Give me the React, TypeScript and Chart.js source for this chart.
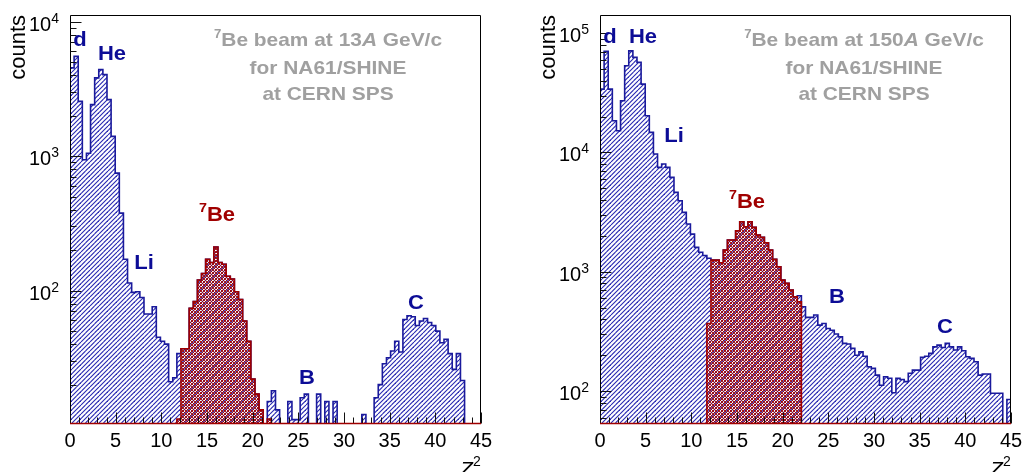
import React, { useEffect, useRef } from "react";
import { Chart, registerables } from "chart.js";

Chart.register(...registerables);

// Histogram binning in Z²: 100 bins of 0.45 over 0–45
const BIN_WIDTH = 0.45;
const Z2_MIN = 0;
const Z2_MAX = 45;
const Z2_TICK_LABELS = ["0", "5", "10", "15", "20", "25", "30", "35", "40", "45"];

// 7Be beam at 13A GeV/c: all fragments (blue) and the selected 7Be peak (red)
const counts13All = [
  4530, 5520, 2555, 940, 1050, 2415, 3815, 4400, 4035, 2630,
  1402, 748, 377, 171, 114, 97, 98, 89, 67, 67,
  76, 45, 42, 40, 21, 22.5, 34, 37, 37, 74,
  83, 120, 134, 171, 162, 211, 162, 157, 128, 122,
  98, 86, 59.5, 42, 22, 17, 13, 0, 15, 18,
  13, 0, 0, 15, 11, 11, 16, 17, 0, 0,
  17, 0, 15, 0, 15, 0, 0, 0, 0, 0,
  0, 12, 0, 0, 16, 20, 28.6, 31.7, 35.6, 42,
  35, 61, 65, 64, 55, 59.5, 62, 58, 55, 50,
  41, 43.5, 34, 26, 34, 21.5, 0, 0, 0, 0,
];
const counts13Be = [
  0, 0, 0, 0, 0, 0, 0, 0, 0, 0,
  0, 0, 0, 0, 0, 0, 0, 0, 0, 0,
  0, 0, 0, 0, 0, 0, 11.1, 37, 37, 74,
  83, 120, 134, 171, 162, 211, 162, 157, 128, 122,
  98, 86, 59.5, 42, 22, 17, 13, 0, 11.1, 0,
  0, 0, 0, 0, 0, 0, 0, 0, 0, 0,
  0, 0, 0, 0, 0, 0, 0, 0, 0, 0,
  0, 0, 0, 0, 0, 0, 0, 0, 0, 0,
  0, 0, 0, 0, 0, 0, 0, 0, 0, 0,
  0, 0, 0, 0, 0, 0, 0, 0, 0, 0,
];

// 7Be beam at 150A GeV/c
const counts150All = [
  33980, 70350, 33980, 18450, 15210, 27110, 53330, 71120, 62660, 56900,
  37440, 20320, 14730, 9700, 7500, 8000, 7500, 6180, 4630, 3940,
  3150, 2513, 2070, 1602, 1460, 1370, 1300, 1253, 1253, 1189,
  1520, 1845, 1845, 2206, 2626, 2384, 2626, 2356, 2030, 1942,
  1750, 1520, 1270, 1102, 851, 800, 703, 618, 630, 509,
  415, 415, 434, 357, 369, 335, 324, 301, 285, 251,
  248, 228, 200, 213, 196, 160, 155, 136, 112, 132,
  128, 97, 128, 125, 120, 141, 150, 150, 192, 196,
  207, 235, 243, 232, 251, 235, 221, 235, 218, 194,
  188, 176, 136, 139, 139, 96, 96, 96, 0, 85,
];
const counts150Be = [
  0, 0, 0, 0, 0, 0, 0, 0, 0, 0,
  0, 0, 0, 0, 0, 0, 0, 0, 0, 0,
  0, 0, 0, 0, 0, 0, 369, 1253, 1253, 1189,
  1520, 1845, 1845, 2206, 2626, 2384, 2626, 2356, 2030, 1942,
  1750, 1520, 1270, 1102, 851, 800, 703, 618, 561, 0,
  0, 0, 0, 0, 0, 0, 0, 0, 0, 0,
  0, 0, 0, 0, 0, 0, 0, 0, 0, 0,
  0, 0, 0, 0, 0, 0, 0, 0, 0, 0,
  0, 0, 0, 0, 0, 0, 0, 0, 0, 0,
  0, 0, 0, 0, 0, 0, 0, 0, 0, 0,
];

const momentum13 = "13";
const momentum150 = "150";

const FONT = "'Liberation Sans', Arial, Helvetica, sans-serif";
const BLUE_LINE = "#1a1a9c";
const BLUE_HATCH = "#2626b0";
const BLUE_TEXT = "#0c0c96";
const RED = "#a00000";
const GREY = "#a0a0a0";
// stand-in for empty bins on a log axis (well below the visible range)
const FLOOR = 1e-3;

type Part = { text: string; size: number; italic?: boolean; dy?: number };

type Note = { parts: Part[]; x: number; y: number; color: string; sx: number };

type PanelConfig = {
  offset: number;
  padLeft: number;
  padRight: number;
  yMin: number;
  yMax: number;
  all: number[];
  be: number[];
  notes: Note[];
};

function stepPoints(values: number[]) {
  let first = values.findIndex((v) => v > 0);
  let last = values.length - 1;
  while (last >= 0 && !(values[last] > 0)) last--;
  const pts: { x: number; y: number }[] = [{ x: first * BIN_WIDTH, y: FLOOR }];
  for (let i = first; i <= last; i++) {
    pts.push({ x: i * BIN_WIDTH, y: values[i] > 0 ? values[i] : FLOOR });
  }
  pts.push({ x: (last + 1) * BIN_WIDTH, y: values[last] });
  pts.push({ x: (last + 1) * BIN_WIDTH, y: FLOOR });
  return pts;
}

function hatchPattern(ctx: CanvasRenderingContext2D) {
  const c = document.createElement("canvas");
  c.width = 9;
  c.height = 9;
  const g = c.getContext("2d")!;
  g.strokeStyle = BLUE_HATCH;
  g.lineWidth = 1.1;
  for (let k = -2; k <= 2; k++) {
    const x0 = k * 4.5;
    g.beginPath();
    g.moveTo(x0, 9);
    g.lineTo(x0 + 9, 0);
    g.stroke();
  }
  return ctx.createPattern(c, "repeat")!;
}

function crossPattern(ctx: CanvasRenderingContext2D) {
  const c = document.createElement("canvas");
  c.width = 6;
  c.height = 6;
  const g = c.getContext("2d")!;
  g.strokeStyle = RED;
  g.lineWidth = 0.9;
  for (let k = -2; k <= 2; k++) {
    const x0 = k * 3;
    g.beginPath();
    g.moveTo(x0, 6);
    g.lineTo(x0 + 6, 0);
    g.moveTo(x0, 0);
    g.lineTo(x0 + 6, 6);
    g.stroke();
  }
  return ctx.createPattern(c, "repeat")!;
}

function fontOf(p: Part) {
  return `${p.italic ? "italic " : ""}bold ${p.size}px ${FONT}`;
}

// bold text run made of several styled parts, centred on cx, slightly widened by sx
function drawRich(ctx: CanvasRenderingContext2D, n: Note) {
  let total = 0;
  const widths = n.parts.map((p) => {
    ctx.font = fontOf(p);
    const w = ctx.measureText(p.text).width;
    total += w;
    return w;
  });
  ctx.save();
  ctx.translate(n.x - (total * n.sx) / 2, n.y);
  ctx.scale(n.sx, 1);
  ctx.fillStyle = n.color;
  ctx.textAlign = "left";
  ctx.textBaseline = "alphabetic";
  let x = 0;
  n.parts.forEach((p, i) => {
    ctx.font = fontOf(p);
    ctx.fillText(p.text, x, p.dy || 0);
    x += widths[i];
  });
  ctx.restore();
}

function titleNotes(cx: number, momentum: string): Note[] {
  return [
    {
      parts: [
        { text: "7", size: 12, dy: -8 },
        { text: `Be beam at ${momentum}`, size: 19 },
        { text: "A", size: 19, italic: true },
        { text: " GeV/c", size: 19 },
      ],
      x: cx,
      y: 46,
      color: GREY,
      sx: 1.1,
    },
    { parts: [{ text: "for NA61/SHINE", size: 19 }], x: cx, y: 74, color: GREY, sx: 1.1 },
    { parts: [{ text: "at CERN SPS", size: 19 }], x: cx, y: 100, color: GREY, sx: 1.1 },
  ];
}

function label(text: string, x: number, y: number): Note {
  return { parts: [{ text, size: 20 }], x, y, color: BLUE_TEXT, sx: 1.1 };
}

function beLabel(x: number, y: number): Note {
  return {
    parts: [
      { text: "7", size: 13, dy: -9 },
      { text: "Be", size: 20 },
    ],
    x,
    y,
    color: RED,
    sx: 1.1,
  };
}

const panel13: PanelConfig = {
  offset: 0,
  padLeft: 70,
  padRight: 31,
  yMin: 10.2,
  yMax: 11200,
  all: counts13All,
  be: counts13Be,
  notes: [
    ...titleNotes(328, momentum13),
    label("d", 80, 46),
    label("He", 112, 60),
    label("Li", 144, 269),
    beLabel(217, 221),
    label("B", 307, 384),
    label("C", 416, 309),
  ],
};

const panel150: PanelConfig = {
  offset: 512,
  padLeft: 88,
  padRight: 13,
  yMin: 53,
  yMax: 142000,
  all: counts150All,
  be: counts150Be,
  notes: [
    ...titleNotes(352, momentum150),
    label("d", 98, 43),
    label("He", 131, 43),
    label("Li", 162, 142),
    beLabel(235, 208),
    label("B", 325, 303),
    label("C", 433, 333),
  ],
};

function makeAxesPlugin(cfg: PanelConfig) {
  return {
    id: "rootAxes",
    afterDatasetsDraw(chart: any) {
      const { ctx, chartArea: a, scales } = chart;
      const xs = scales.x;
      const ys = scales.y;
      const L = Math.round(a.left) + 0.5;
      const R = Math.round(a.right) - 0.5;
      const T = Math.round(a.top) + 0.5;
      const B = Math.round(a.bottom) - 0.5;
      ctx.save();

      // frame
      ctx.strokeStyle = "#000";
      ctx.lineWidth = 1;
      ctx.beginPath();
      ctx.moveTo(L, B);
      ctx.lineTo(L, T);
      ctx.lineTo(R, T);
      ctx.lineTo(R, B);
      ctx.stroke();

      // x ticks
      ctx.strokeStyle = "#111";
      for (let v = Z2_MIN; v <= Z2_MAX; v++) {
        const px = Math.round(xs.getPixelForValue(v)) + 0.5;
        const len = v % 5 === 0 ? 11 : 6;
        ctx.beginPath();
        ctx.moveTo(px, B);
        ctx.lineTo(px, B - len);
        ctx.stroke();
      }
      // y ticks (log)
      const e0 = Math.floor(Math.log10(cfg.yMin));
      const e1 = Math.ceil(Math.log10(cfg.yMax));
      for (let e = e0; e <= e1; e++) {
        for (let m = 1; m <= 9; m++) {
          const v = m * Math.pow(10, e);
          if (v < cfg.yMin || v > cfg.yMax) continue;
          const py = Math.round(ys.getPixelForValue(v)) + 0.5;
          const len = m === 1 ? 11 : 6;
          ctx.beginPath();
          ctx.moveTo(L, py);
          ctx.lineTo(L + len, py);
          ctx.stroke();
        }
      }

      // bottom edge
      ctx.strokeStyle = RED;
      ctx.lineWidth = 1.5;
      ctx.beginPath();
      ctx.moveTo(a.left, a.bottom - 0.5);
      ctx.lineTo(a.right, a.bottom - 0.5);
      ctx.stroke();

      // x tick labels
      ctx.fillStyle = "#000";
      ctx.font = `20px ${FONT}`;
      ctx.textAlign = "center";
      ctx.textBaseline = "alphabetic";
      Z2_TICK_LABELS.forEach((t) => {
        ctx.fillText(t, xs.getPixelForValue(Number(t)), a.bottom + 23);
      });

      // y tick labels 10^n
      for (let e = e0; e <= e1; e++) {
        const v = Math.pow(10, e);
        if (v < cfg.yMin || v > cfg.yMax) continue;
        const py = ys.getPixelForValue(v);
        ctx.font = `14px ${FONT}`;
        const sw = ctx.measureText(String(e)).width;
        const supX = a.left - 11 - sw;
        ctx.textAlign = "left";
        ctx.fillText(String(e), supX, py + 1);
        ctx.font = `20px ${FONT}`;
        ctx.textAlign = "right";
        ctx.fillText("10", supX, py + 9);
      }

      // axis titles
      ctx.save();
      ctx.translate(a.left - 45, a.top);
      ctx.rotate(-Math.PI / 2);
      ctx.font = `22px ${FONT}`;
      ctx.textAlign = "right";
      ctx.textBaseline = "alphabetic";
      ctx.fillText("counts", 0, 0);
      ctx.restore();

      ctx.textAlign = "left";
      ctx.font = `italic 21px ${FONT}`;
      const zx = a.right - 21;
      ctx.fillText("Z", zx, 476);
      ctx.font = `14px ${FONT}`;
      ctx.fillText("2", zx + 13, 466);

      // annotations
      cfg.notes.forEach((n) => drawRich(ctx, n));
      ctx.restore();
    },
  };
}

function Panel({ cfg }: { cfg: PanelConfig }) {
  const ref = useRef<HTMLCanvasElement>(null);
  useEffect(() => {
    const canvas = ref.current!;
    const ctx = canvas.getContext("2d")!;
    const chart = new Chart(ctx, {
      type: "line",
      data: {
        datasets: [
          {
            data: stepPoints(cfg.be),
            order: 0,
            borderColor: RED,
            borderWidth: 1.6,
            backgroundColor: crossPattern(ctx),
            fill: "start",
            stepped: true,
            pointRadius: 0,
            tension: 0,
          },
          {
            data: stepPoints(cfg.all),
            order: 1,
            borderColor: BLUE_LINE,
            borderWidth: 1.6,
            backgroundColor: hatchPattern(ctx),
            fill: "start",
            stepped: true,
            pointRadius: 0,
            tension: 0,
          },
        ],
      },
      options: {
        animation: false,
        responsive: false,
        maintainAspectRatio: false,
        events: [],
        layout: { padding: { left: cfg.padLeft, right: cfg.padRight, top: 15, bottom: 48 } },
        scales: {
          x: { type: "linear", min: Z2_MIN, max: Z2_MAX, display: false },
          y: { type: "logarithmic", min: cfg.yMin, max: cfg.yMax, display: false },
        },
        plugins: { legend: { display: false }, tooltip: { enabled: false } },
      },
      plugins: [makeAxesPlugin(cfg)],
    } as any);
    return () => chart.destroy();
  }, [cfg]);
  return (
    <canvas
      ref={ref}
      width={512}
      height={472}
      style={{ position: "absolute", left: cfg.offset, top: 0, width: 512, height: 472 }}
    />
  );
}

export default function App() {
  return (
    <div style={{ position: "fixed", left: 0, top: 0, width: 1024, height: 472, background: "#fff", overflow: "hidden" }}>
      <Panel cfg={panel13} />
      <Panel cfg={panel150} />
    </div>
  );
}
